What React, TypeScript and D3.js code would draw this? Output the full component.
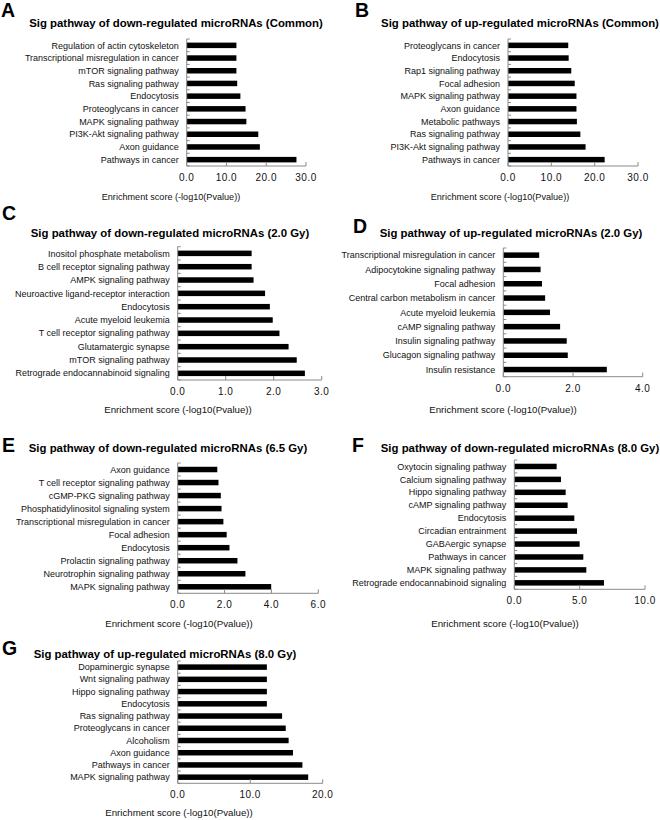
import React from "react";
import * as d3 from "d3";

// ---------- DATA ----------
const categoriesA = ["Regulation of actin cytoskeleton", "Transcriptional misregulation in cancer", "mTOR signaling pathway", "Ras signaling pathway", "Endocytosis", "Proteoglycans in cancer", "MAPK signaling pathway", "PI3K-Akt signaling pathway", "Axon guidance", "Pathways in cancer"];
const valuesA = [12.5, 12.5, 12.5, 12.7, 13.5, 14.8, 15.0, 18.0, 18.4, 27.6];

const categoriesB = ["Proteoglycans in cancer", "Endocytosis", "Rap1 signaling pathway", "Focal adhesion", "MAPK signaling pathway", "Axon guidance", "Metabolic pathways", "Ras signaling pathway", "PI3K-Akt signaling pathway", "Pathways in cancer"];
const valuesB = [13.9, 14.0, 14.6, 15.4, 15.8, 15.8, 15.9, 16.7, 17.9, 22.3];

const categoriesC = ["Inositol phosphate metabolism", "B cell receptor signaling pathway", "AMPK signaling pathway", "Neuroactive ligand-receptor interaction", "Endocytosis", "Acute myeloid leukemia", "T cell receptor signaling pathway", "Glutamatergic synapse", "mTOR signaling pathway", "Retrograde endocannabinoid signaling"];
const valuesC = [1.54, 1.54, 1.58, 1.82, 1.92, 1.98, 2.12, 2.31, 2.48, 2.65];

const categoriesD = ["Transcriptional misregulation in cancer", "Adipocytokine signaling pathway", "Focal adhesion", "Central carbon metabolism in cancer", "Acute myeloid leukemia", "cAMP signaling pathway", "Insulin signaling pathway", "Glucagon signaling pathway", "Insulin resistance"];
const valuesD = [1.03, 1.07, 1.11, 1.2, 1.34, 1.63, 1.82, 1.85, 2.97];

const categoriesE = ["Axon guidance", "T cell receptor signaling pathway", "cGMP-PKG signaling pathway", "Phosphatidylinositol signaling system", "Transcriptional misregulation in cancer", "Focal adhesion", "Endocytosis", "Prolactin signaling pathway", "Neurotrophin signaling pathway", "MAPK signaling pathway"];
const valuesE = [1.69, 1.74, 1.84, 1.87, 1.95, 2.09, 2.21, 2.55, 2.89, 3.99];

const categoriesF = ["Oxytocin signaling pathway", "Calcium signaling pathway", "Hippo signaling pathway", "cAMP signaling pathway", "Endocytosis", "Circadian entrainment", "GABAergic synapse", "Pathways in cancer", "MAPK signaling pathway", "Retrograde endocannabinoid signaling"];
const valuesF = [3.24, 3.57, 3.93, 4.08, 4.59, 4.8, 5.0, 5.28, 5.51, 6.86];

const categoriesG = ["Dopaminergic synapse", "Wnt signaling pathway", "Hippo signaling pathway", "Endocytosis", "Ras signaling pathway", "Proteoglycans in cancer", "Alcoholism", "Axon guidance", "Pathways in cancer", "MAPK signaling pathway"];
const valuesG = [12.3, 12.3, 12.3, 12.3, 14.4, 14.9, 15.3, 15.9, 17.2, 18.0];

const ticksA = [0, 10, 20, 30];
const ticksB = [0, 10, 20, 30];
const ticksC = [0, 1, 2, 3];
const ticksD = [0, 2, 4];
const ticksE = [0, 2, 4, 6];
const ticksF = [0, 5, 10];
const ticksG = [0, 10, 20];

const titlesList = [
  "Sig pathway of down-regulated microRNAs (Common)",
  "Sig pathway of up-regulated microRNAs (Common)",
  "Sig pathway of down-regulated microRNAs (2.0 Gy)",
  "Sig pathway of up-regulated microRNAs (2.0 Gy)",
  "Sig pathway of down-regulated microRNAs (6.5 Gy)",
  "Sig pathway of down-regulated microRNAs (8.0 Gy)",
  "Sig pathway of up-regulated microRNAs (8.0 Gy)",
];
const lettersList = ["A", "B", "C", "D", "E", "F", "G"];
const axisTitle = "Enrichment score (-log10(Pvalue))";

// ---------- LAYOUT ----------
const layouts = [
  { cats: categoriesA, vals: valuesA, ticks: ticksA, lx: 1, ly: 17, tx: 176, ty: 27, x0: 186.7, x1: 306, top: 39, bottom: 166, atx: 171, aty: 200, atSize: 9.1 },
  { cats: categoriesB, vals: valuesB, ticks: ticksB, lx: 355, ly: 17, tx: 520, ty: 27, x0: 508, x1: 638, top: 39, bottom: 166, atx: 500, aty: 200, atSize: 9.1 },
  { cats: categoriesC, vals: valuesC, ticks: ticksC, lx: 2, ly: 220, tx: 170, ty: 237, x0: 177.7, x1: 321.7, top: 246.7, bottom: 380, atx: 178, aty: 413, atSize: 9.7 },
  { cats: categoriesD, vals: valuesD, ticks: ticksD, lx: 353, ly: 233, tx: 511, ty: 237, x0: 503.3, x1: 642.7, top: 248, bottom: 376.7, atx: 503, aty: 413, atSize: 9.7 },
  { cats: categoriesE, vals: valuesE, ticks: ticksE, lx: 2, ly: 452, tx: 168, ty: 452, x0: 177.7, x1: 318.3, top: 463, bottom: 593.3, atx: 179, aty: 627, atSize: 9.7 },
  { cats: categoriesF, vals: valuesF, ticks: ticksF, lx: 352, ly: 452, tx: 520, ty: 452, x0: 514.3, x1: 645, top: 460, bottom: 589.3, atx: 505, aty: 627, atSize: 9.7 },
  { cats: categoriesG, vals: valuesG, ticks: ticksG, lx: 2, ly: 655, tx: 165, ty: 658, x0: 177.7, x1: 322.7, top: 661, bottom: 783.3, atx: 179, aty: 816, atSize: 9.7 },
];

const FONT = "Arial, 'Liberation Sans', sans-serif";
const AXIS_COLOR = "#8a8a8a";
const BAR_H = 5.5;

function Panel({ cfg, idx }: { cfg: any; idx: number }) {
  const { cats, vals, ticks } = cfg;
  const x = d3.scaleLinear().domain([0, ticks[ticks.length - 1]]).range([cfg.x0, cfg.x1]);
  const y = d3.scaleBand<string>().domain(cats).range([cfg.top, cfg.bottom]).padding(0);
  const fmt = d3.format(".1f");
  const boundaries = d3.range(cats.length + 1).map((i) => cfg.top + i * y.step());
  return (
    <g>
      <text x={cfg.lx} y={cfg.ly} fontFamily={FONT} fontWeight="bold" fontSize={19.5} fill="#000">
        {lettersList[idx]}
      </text>
      <text x={cfg.tx} y={cfg.ty} fontFamily={FONT} fontWeight="bold" fontSize={11.4} textAnchor="middle" fill="#000">
        {titlesList[idx]}
      </text>
      {cats.map((c: string, i: number) => (
        <g key={c + i}>
          <rect x={x(0)} y={(y(c) as number) + y.bandwidth() / 2 - BAR_H / 2} width={x(vals[i]) - x(0)} height={BAR_H} fill="#000" />
          <text x={cfg.x0 - 8} y={(y(c) as number) + y.bandwidth() / 2} dy="0.35em" textAnchor="end" fontFamily={FONT} fontSize={9} fill="#111">
            {c}
          </text>
        </g>
      ))}
      <line x1={cfg.x0} x2={cfg.x0} y1={cfg.top} y2={cfg.bottom} stroke={AXIS_COLOR} strokeWidth={1} />
      {boundaries.map((b, i) => (
        <line key={"yt" + i} x1={cfg.x0} x2={cfg.x0 + 3} y1={b} y2={b} stroke={AXIS_COLOR} strokeWidth={1} />
      ))}
      <line x1={cfg.x0} x2={cfg.x1} y1={cfg.bottom} y2={cfg.bottom} stroke={AXIS_COLOR} strokeWidth={1} />
      {ticks.map((t: number) => (
        <g key={"xt" + t}>
          <line x1={x(t)} x2={x(t)} y1={cfg.bottom} y2={cfg.bottom - 4} stroke={AXIS_COLOR} strokeWidth={1} />
          <text x={x(t)} y={cfg.bottom + 15} textAnchor="middle" fontFamily={FONT} fontSize={10} letterSpacing={0.5} fill="#111">
            {fmt(t)}
          </text>
        </g>
      ))}
      <text x={cfg.atx} y={cfg.aty} textAnchor="middle" fontFamily={FONT} fontSize={cfg.atSize} fill="#111">
        {axisTitle}
      </text>
    </g>
  );
}

export default function App() {
  return (
    <svg width={660} height={820} style={{ position: "absolute", left: 0, top: 0, background: "#fff" }}>
      <rect width={660} height={820} fill="#fff" />
      {layouts.map((cfg, i) => (
        <Panel key={i} cfg={cfg} idx={i} />
      ))}
    </svg>
  );
}
